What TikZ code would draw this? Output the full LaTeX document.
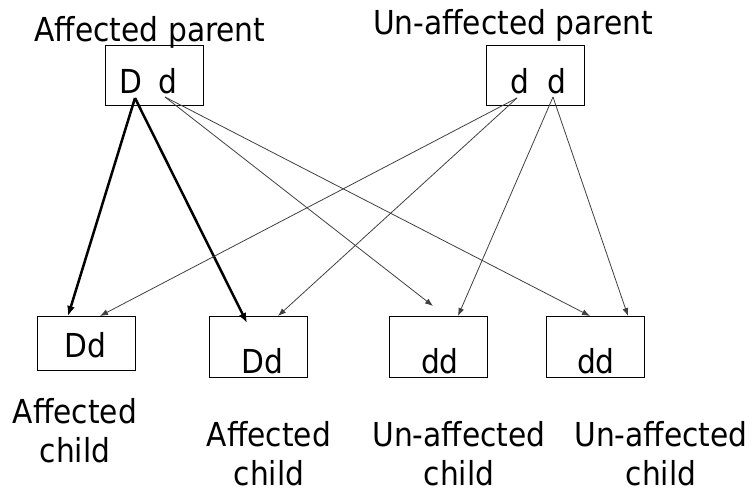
\documentclass[tikz,border=0pt]{standalone}
\usepackage{fontspec}
\setmainfont{DejaVu Sans Condensed}
\usetikzlibrary{arrows.meta}
\begin{document}
\begin{tikzpicture}[x=1pt,y=-1pt,
  box/.style={draw=black,line width=1pt,minimum width=98pt,inner sep=0pt},
  txt/.style={font=\fontsize{33}{40}\selectfont,inner sep=0pt,anchor=base},
  lbl/.style={font=\fontsize{33}{39}\selectfont,inner sep=0pt,align=center,anchor=base},
  thin/.style={draw=black!75,line width=0.8pt,-{Latex[length=8pt,width=6pt]}},
  thick/.style={draw=black,line width=2.5pt,-{Latex[length=10pt,width=8pt]}}]
\useasboundingbox (0,0) rectangle (755,494);
% parent boxes
\node[box,minimum height=60pt] (pl) at (154,76) {};
\node[box,minimum height=60pt] (pr) at (535,76) {};
% child boxes
\node[box,minimum height=53pt] (c1) at (86,343.5) {};
\node[box,minimum height=60pt] (c2) at (258,347) {};
\node[box,minimum height=60pt] (c3) at (438,347) {};
\node[box,minimum height=60pt] (c4) at (595.5,347) {};
% titles
\node[txt] (tl) at (150,42) {Affected parent};
\node[txt] (tr) at (513,35) {Un-affected parent};
% alleles
\node[txt] (D1) at (131,94) {D};
\node[txt] (d1) at (168,94) {d};
\node[txt] (d2) at (520,94) {d};
\node[txt] (d3) at (557,94) {d};
% child genotypes
\node[txt] (g1) at (85,357) {Dd};
\node[txt] (g2) at (262,373) {Dd};
\node[txt] (g3) at (440,373) {dd};
\node[txt] (g4) at (596,373) {dd};
% labels (base anchor = baseline of last line)
\node[lbl] (l1) at (75,462) {Affected\\child};
\node[lbl] (l2) at (269,485) {Affected\\child};
\node[lbl] (l3) at (459,485) {Un-affected\\child};
\node[lbl] (l4) at (661,485) {Un-affected\\child};
% arrow start and end points
\coordinate (sD) at (135,98);
\coordinate (sd1) at (165,97);
\coordinate (sd2) at (517,98);
\coordinate (sd3) at (553,97);
\coordinate (e1a) at (68,316);
\coordinate (e1b) at (100,316);
\coordinate (e2a) at (247,323);
\coordinate (e2b) at (278,316);
\coordinate (e3a) at (433,306);
\coordinate (e3b) at (458,316);
\coordinate (e4a) at (590,316);
\coordinate (e4b) at (628,316);
% arrows
\draw[thick] (sD) -- (e1a);
\draw[thick] (sD) -- (e2a);
\draw[thin] (sd1) -- (e3a);
\draw[thin] (sd1) -- (e4a);
\draw[thin] (sd2) -- (e1b);
\draw[thin] (sd2) -- (e2b);
\draw[thin] (sd3) -- (e3b);
\draw[thin] (sd3) -- (e4b);
\end{tikzpicture}
\end{document}
